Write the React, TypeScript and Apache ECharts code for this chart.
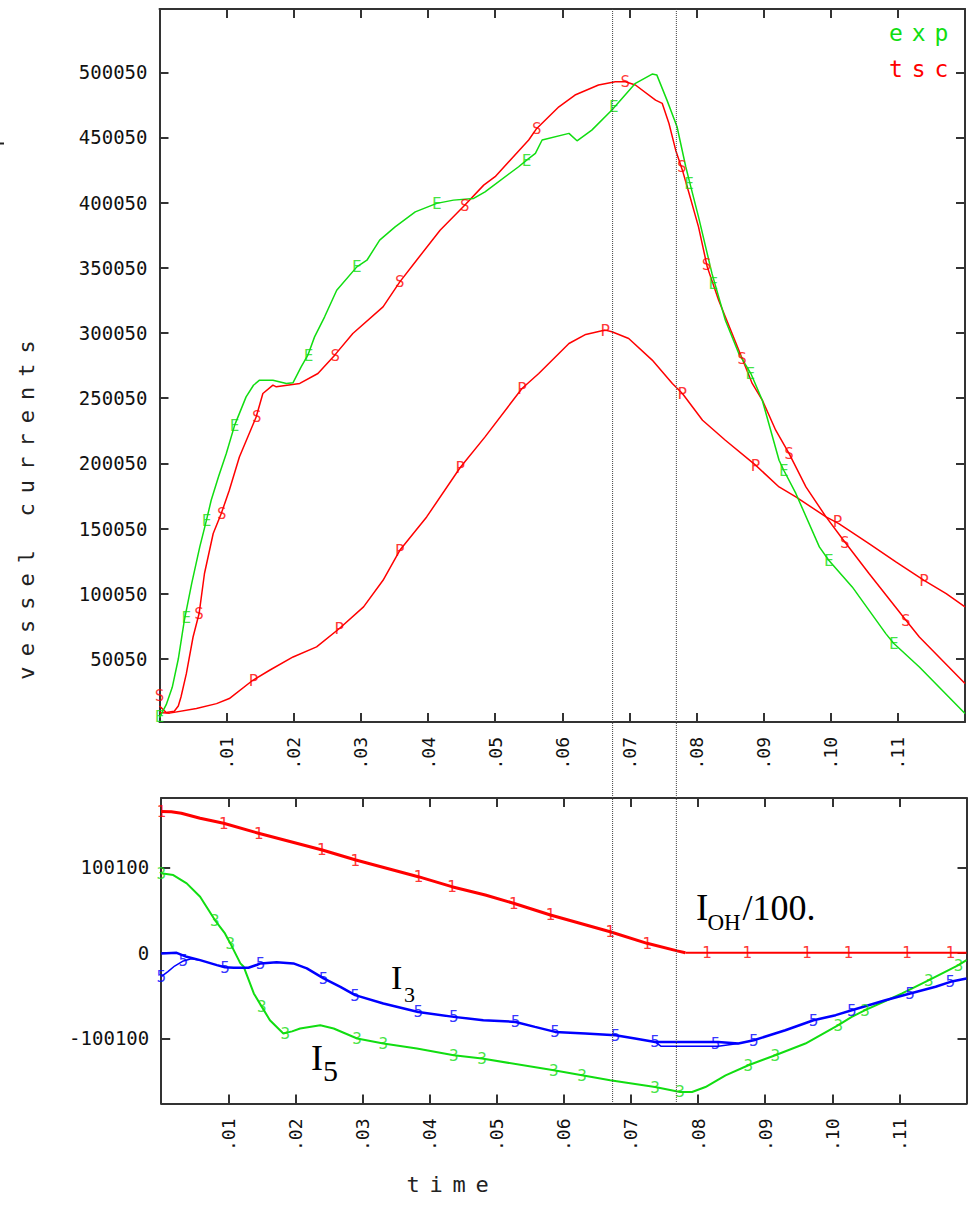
import React, { useEffect, useRef } from "react";
import * as echarts from "echarts";

// ---------- axis values ----------
const TIME_MIN = 0;
const TIME_MAX = 0.12;
const TIME_TICKS = [0.01, 0.02, 0.03, 0.04, 0.05, 0.06, 0.07, 0.08, 0.09, 0.1, 0.11];
const TOP_Y_MIN = 1700;
const TOP_Y_MAX = 548600;
const TOP_Y_TICKS = [50050, 100050, 150050, 200050, 250050, 300050, 350050, 400050, 450050, 500050];
const BOT_Y_MIN = -176400;
const BOT_Y_MAX = 181200;
const BOT_Y_TICKS = [-100100, 0, 100100];
const MARKER_TIMES = [0.0675, 0.077];

// ---------- top panel: vessel currents ----------
const expCurve = [
  [0, 5000], [0.001, 15000], [0.0019, 28300], [0.0028, 50000], [0.0037, 79700], [0.0048, 108000],
  [0.006, 136000], [0.007, 156500], [0.0077, 171800], [0.0088, 190000], [0.00995, 207700],
  [0.0112, 229400], [0.0129, 251100], [0.014, 260000], [0.0149, 263900], [0.0169, 263900],
  [0.0189, 261400], [0.0199, 262000], [0.0211, 274100], [0.0221, 283100], [0.0231, 297100],
  [0.0246, 312500], [0.0264, 332900], [0.0294, 350800], [0.0309, 355900], [0.0328, 371300],
  [0.0351, 381500], [0.0381, 393000], [0.0413, 399500], [0.0438, 402000], [0.0468, 403300],
  [0.0485, 408400], [0.0535, 427600], [0.0547, 432700], [0.056, 437900], [0.057, 448100],
  [0.061, 453200], [0.0622, 447500], [0.0644, 455700], [0.0674, 471100], [0.0709, 491600],
  [0.0734, 498700], [0.0741, 497900], [0.0756, 478700], [0.0771, 458300], [0.0784, 427600],
  [0.0789, 417300], [0.0803, 389200], [0.0823, 345800], [0.0843, 309900], [0.0863, 284400],
  [0.0881, 269000], [0.0898, 248500], [0.0923, 202500], [0.093, 194800], [0.0948, 177000],
  [0.0983, 136000], [0.0997, 125800], [0.1032, 105300], [0.1082, 69500], [0.1094, 61900],
  [0.1132, 43900], [0.12, 8200],
];
const expMarks = [
  [0, 6000], [0.004, 82000], [0.007, 156500], [0.0112, 229400], [0.0222, 283100], [0.0294, 350800],
  [0.0413, 399500], [0.0547, 432700], [0.0677, 473600], [0.0789, 415000], [0.0825, 338000],
  [0.088, 269000], [0.093, 194800], [0.0997, 125800], [0.1094, 61900],
];
const tscTotal = [
  [0, 14000], [0.001, 9000], [0.0022, 10000], [0.0028, 14000], [0.0032, 20900], [0.004, 38800],
  [0.005, 66900], [0.0059, 84900], [0.0067, 115600], [0.008, 146300], [0.0092, 161600],
  [0.0104, 179500], [0.0119, 205000], [0.0144, 235700], [0.0154, 253700], [0.0169, 260100],
  [0.0174, 258800], [0.0209, 261400], [0.0236, 269000], [0.0261, 283100], [0.0288, 299700],
  [0.0333, 320100], [0.0358, 339300], [0.0383, 355900], [0.0418, 378900], [0.0455, 398200],
  [0.0483, 413500], [0.05, 420000], [0.055, 448100], [0.0562, 457000], [0.0595, 473600],
  [0.0619, 482600], [0.0654, 490300], [0.0679, 492800], [0.0694, 492800], [0.0709, 490300],
  [0.0739, 478700], [0.0749, 476200], [0.0759, 460800], [0.0769, 440300], [0.0779, 425000],
  [0.0789, 407100], [0.0803, 381500], [0.0816, 350800], [0.0833, 325200], [0.0853, 299700],
  [0.0868, 280500], [0.0883, 261400], [0.0898, 248600], [0.0918, 225500], [0.0938, 207600],
  [0.0963, 182000], [0.0993, 159000], [0.1017, 142400], [0.1057, 115600], [0.1112, 79700],
  [0.1132, 66900], [0.12, 31200],
];
const tscTotalMarks = [
  [0, 22000], [0.0059, 84900], [0.0093, 161600], [0.0145, 235700], [0.0262, 283100],
  [0.0358, 339300], [0.0455, 398200], [0.0562, 457000], [0.0694, 492800], [0.0778, 428000],
  [0.0815, 353000], [0.0868, 280500], [0.0938, 207600], [0.1021, 139500], [0.1112, 79700],
];
const tscPlasma = [
  [0, 9000], [0.0015, 8500], [0.0055, 12000], [0.0085, 15800], [0.0104, 19700], [0.0139, 33700],
  [0.0164, 41400], [0.0199, 51600], [0.0234, 59300], [0.0268, 73400], [0.0304, 90000],
  [0.0333, 110400], [0.0358, 133400], [0.0398, 159000], [0.0448, 196900], [0.0485, 220400],
  [0.054, 257500], [0.0565, 269000], [0.061, 292000], [0.0635, 299000], [0.0664, 302300],
  [0.0674, 301000], [0.0699, 295900], [0.0734, 279300], [0.0764, 261400], [0.0779, 253700],
  [0.0809, 233200], [0.0843, 217800], [0.0888, 198700], [0.0923, 182000], [0.0948, 174400],
  [0.0993, 159000], [0.1012, 153900], [0.1057, 138600], [0.1097, 124500], [0.1139, 110400],
  [0.1172, 100200], [0.12, 90000],
];
const tscPlasmaMarks = [
  [0.014, 33700], [0.0268, 73400], [0.0358, 133400], [0.0448, 196900], [0.054, 257500],
  [0.0664, 302300], [0.0779, 253700], [0.0888, 198700], [0.101, 155500], [0.1139, 110400],
];

// ---------- bottom panel: coil currents ----------
const ohCurrent = [
  [0, 165300], [0.0015, 165000], [0.003, 163400], [0.0058, 157500], [0.0093, 151600],
  [0.0145, 139900], [0.024, 120400], [0.029, 108600], [0.0383, 89100], [0.0433, 77400],
  [0.0483, 67700], [0.0525, 58000], [0.058, 44300], [0.0669, 24700], [0.0724, 11100],
  [0.0769, 2300], [0.0781, 0], [0.12, 0],
];
const ohMarks = [
  [0, 165200], [0.0093, 151600], [0.0145, 139900], [0.0239, 120400], [0.0289, 108600],
  [0.0383, 89100], [0.0433, 77400], [0.0525, 58000], [0.058, 44300], [0.0669, 24700],
  [0.0724, 11100], [0.0813, 0], [0.0873, 0], [0.0962, 0], [0.1024, 0], [0.1111, 0], [0.1176, 0],
];
const i5Current = [
  [0, 93100], [0.0018, 91000], [0.0038, 81300], [0.0058, 65600], [0.008, 38300], [0.0095, 22700],
  [0.0103, 11000], [0.0118, -12400], [0.0123, -16400], [0.0138, -47600], [0.015, -63300],
  [0.0162, -78900], [0.0182, -94500], [0.0195, -92000], [0.0207, -88600], [0.0237, -84700],
  [0.0257, -88600], [0.0292, -100300], [0.0331, -106200], [0.0381, -112000], [0.0436, -119900],
  [0.0478, -123800], [0.0585, -137500], [0.0627, -143400], [0.0669, -149200], [0.0736, -157100],
  [0.0773, -162900], [0.0791, -162900], [0.0811, -157100], [0.0841, -143400], [0.0875, -131600],
  [0.0915, -119900], [0.096, -106200], [0.1009, -84700], [0.1029, -75000], [0.1049, -67200],
  [0.1104, -47600], [0.1144, -32000], [0.1188, -14400], [0.12, -8600],
];
const i5Marks = [
  [0, 93100], [0.008, 38300], [0.0103, 11000], [0.015, -63300], [0.0185, -94500], [0.0292, -100300],
  [0.0331, -106200], [0.0436, -119900], [0.0478, -123800], [0.0585, -137500], [0.0627, -143400],
  [0.0736, -157100], [0.0773, -162900], [0.0875, -131600], [0.0915, -119900], [0.1009, -84700],
  [0.1049, -67200], [0.1144, -32000], [0.1188, -14400],
];
const i3Current = [
  [0, -700], [0.0023, 0], [0.0038, -4700], [0.0058, -8600], [0.0083, -14400], [0.0095, -17000],
  [0.0108, -17500], [0.013, -17500], [0.0143, -14000], [0.0148, -12400], [0.0172, -11000],
  [0.0197, -12400], [0.0217, -18300], [0.0242, -30000], [0.0267, -39800], [0.0289, -49600],
  [0.0331, -59300], [0.0383, -69200], [0.0436, -75000], [0.048, -78900], [0.0528, -80900],
  [0.0557, -86700], [0.0587, -92600], [0.0632, -94500], [0.0677, -96500], [0.0706, -100300],
  [0.0736, -104300], [0.0745, -104300], [0.083, -104300], [0.086, -106200], [0.0883, -102300],
  [0.093, -90600], [0.0972, -78900], [0.1005, -73000], [0.1029, -67200], [0.1079, -55500],
  [0.1116, -47600], [0.1154, -39800], [0.1176, -34000], [0.12, -30000],
];
const i3StartBranch = [
  [0, -28000], [0.001, -22000], [0.002, -15500], [0.0033, -9500], [0.0045, -7000], [0.0058, -8600],
];
const i3DipBranch = [
  [0.0736, -104300], [0.0745, -109500], [0.083, -109500], [0.086, -106200],
];
const i3Marks = [
  [0, -28000], [0.0033, -9500], [0.0095, -17000], [0.0148, -12400], [0.0242, -30000],
  [0.0289, -49600], [0.0383, -69200], [0.0436, -75000], [0.0528, -80900], [0.0587, -92600],
  [0.0677, -96500], [0.0736, -104300], [0.0826, -106000], [0.0883, -102300], [0.0972, -78900],
  [0.1029, -67200], [0.1116, -47600], [0.1176, -34000],
];

// ---------- styles ----------
const GREEN = "#11dd11";
const RED = "#ff0000";
const BLUE = "#0000ff";
const FRAME = "#333333";
const MONO = "DejaVu Sans Mono";
const SERIF = "Liberation Serif";

const TOP_GRID = { left: 159.5, top: 9, width: 805.5, height: 713 };
const BOT_GRID = { left: 161.2, top: 798, width: 805.3, height: 305.5 };

const fmtTime = (v: number) => v.toFixed(2).replace(/^0/, "");

function xAxisDef(gridIndex: number, position: "bottom" | "top", labels: boolean) {
  return {
    type: "value",
    gridIndex,
    position,
    min: TIME_MIN,
    max: TIME_MAX,
    axisLine: { show: true, onZero: false, lineStyle: { color: FRAME, width: 2 } },
    axisTick: { show: true, inside: true, length: 9, customValues: TIME_TICKS, lineStyle: { color: FRAME, width: 2 } },
    axisLabel: {
      show: labels,
      customValues: TIME_TICKS,
      rotate: 90,
      margin: 15,
      formatter: fmtTime,
      fontFamily: MONO,
      fontSize: 18,
      color: "#111",
    },
    splitLine: { show: false },
  };
}

function yAxisDef(gridIndex: number, position: "left" | "right", labels: boolean, min: number, max: number, ticks: number[]) {
  return {
    type: "value",
    gridIndex,
    position,
    min,
    max,
    axisLine: { show: true, onZero: false, lineStyle: { color: FRAME, width: 2 } },
    axisTick: { show: true, inside: true, length: 9, customValues: ticks, lineStyle: { color: FRAME, width: 2 } },
    axisLabel: {
      show: labels,
      customValues: ticks,
      margin: 12,
      formatter: (v: number) => String(Math.round(v)),
      fontFamily: MONO,
      fontSize: 19,
      color: "#111",
    },
    splitLine: { show: false },
  };
}

function lineSeries(data: number[][], color: string, width: number, axis: number, z = 3) {
  return {
    type: "line",
    data,
    xAxisIndex: axis,
    yAxisIndex: axis,
    symbol: "none",
    smooth: false,
    silent: true,
    z,
    lineStyle: { color, width },
  };
}

function markSeries(data: number[][], letter: string, color: string, axis: number) {
  return {
    type: "scatter",
    data,
    xAxisIndex: axis,
    yAxisIndex: axis,
    symbol: "circle",
    symbolSize: 1,
    silent: true,
    z: 5,
    itemStyle: { color: "rgba(0,0,0,0)" },
    label: {
      show: true,
      position: "inside",
      formatter: letter,
      color,
      fontFamily: MONO,
      fontSize: 16,
    },
  };
}

function spacedText(text: string, x0: number, y0: number, dx: number, dy: number, color: string, size: number, rotation = 0) {
  const out: any[] = [];
  for (let i = 0; i < text.length; i++) {
    const ch = text[i];
    if (ch === " ") continue;
    out.push({
      type: "text",
      x: x0 + i * dx,
      y: y0 + i * dy,
      rotation,
      silent: true,
      z: 20,
      style: {
        text: ch,
        fill: color,
        fontFamily: MONO,
        fontSize: size,
        align: "center",
        verticalAlign: "middle",
        textAlign: "center",
        textVerticalAlign: "middle",
      },
    });
  }
  return out;
}

function serifText(text: string, x: number, y: number, size: number) {
  return {
    type: "text",
    x,
    y,
    silent: true,
    z: 20,
    style: {
      text,
      fill: "#000",
      fontFamily: SERIF,
      fontSize: size,
      align: "left",
      verticalAlign: "middle",
      textAlign: "left",
      textVerticalAlign: "middle",
    },
  };
}

export default function App() {
  const ref = useRef<HTMLDivElement>(null);

  useEffect(() => {
    if (!ref.current) return;
    const chart = echarts.init(ref.current, null, { renderer: "svg" });
    const ohDecline = ohCurrent.filter((p) => p[0] <= 0.0781);
    const ohFlat = ohCurrent.filter((p) => p[0] >= 0.0781);

    const option: any = {
      animation: false,
      backgroundColor: "#ffffff",
      grid: [
        { ...TOP_GRID, containLabel: false, outerBoundsMode: "none", show: false },
        { ...BOT_GRID, containLabel: false, outerBoundsMode: "none", show: false },
      ],
      xAxis: [
        xAxisDef(0, "bottom", true),
        xAxisDef(0, "top", false),
        xAxisDef(1, "bottom", true),
        xAxisDef(1, "top", false),
      ],
      yAxis: [
        yAxisDef(0, "left", true, TOP_Y_MIN, TOP_Y_MAX, TOP_Y_TICKS),
        yAxisDef(0, "right", false, TOP_Y_MIN, TOP_Y_MAX, TOP_Y_TICKS),
        yAxisDef(1, "left", true, BOT_Y_MIN, BOT_Y_MAX, BOT_Y_TICKS),
        yAxisDef(1, "right", false, BOT_Y_MIN, BOT_Y_MAX, BOT_Y_TICKS),
      ],
      series: [
        lineSeries(tscPlasma, RED, 1.5, 0),
        lineSeries(tscTotal, RED, 1.5, 0),
        lineSeries(expCurve, GREEN, 1.5, 0, 4),
        markSeries(tscPlasmaMarks, "P", RED, 0),
        markSeries(tscTotalMarks, "S", RED, 0),
        markSeries(expMarks, "E", GREEN, 0),
        { ...lineSeries(ohDecline, RED, 3, 2), xAxisIndex: 2, yAxisIndex: 2 },
        { ...lineSeries(ohFlat, RED, 2, 2), xAxisIndex: 2, yAxisIndex: 2 },
        { ...lineSeries(i5Current, GREEN, 2, 2), xAxisIndex: 2, yAxisIndex: 2 },
        { ...lineSeries(i3Current, BLUE, 2.5, 2), xAxisIndex: 2, yAxisIndex: 2 },
        { ...lineSeries(i3StartBranch, BLUE, 1.5, 2), xAxisIndex: 2, yAxisIndex: 2 },
        { ...lineSeries(i3DipBranch, BLUE, 1.5, 2), xAxisIndex: 2, yAxisIndex: 2 },
        { ...markSeries(ohMarks, "1", RED, 2), xAxisIndex: 2, yAxisIndex: 2 },
        { ...markSeries(i5Marks, "3", GREEN, 2), xAxisIndex: 2, yAxisIndex: 2 },
        { ...markSeries(i3Marks, "5", BLUE, 2), xAxisIndex: 2, yAxisIndex: 2 },
      ],
    };
    chart.setOption(option);

    const markerXs = MARKER_TIMES.map((t) => chart.convertToPixel({ xAxisIndex: 0 }, t) as number);
    const yTop = TOP_GRID.top;
    const yBottom = BOT_GRID.top + BOT_GRID.height;

    const graphics: any[] = [
      ...markerXs.map((x) => ({
        type: "line",
        silent: true,
        z: 15,
        shape: { x1: x, y1: yTop, x2: x, y2: yBottom },
        style: { stroke: "#444", lineWidth: 1, lineDash: [1, 1] },
      })),
      {
        type: "line",
        silent: true,
        z: 15,
        shape: { x1: 0, y1: 143.5, x2: 4, y2: 143.5 },
        style: { stroke: "#222", lineWidth: 2 },
      },
      ...spacedText("vessel currents", 26, 673, 0, -23.3, "#222", 22, Math.PI / 2),
      ...spacedText("time", 413, 1184.5, 23, 0, "#222", 22),
      ...spacedText("exp", 896, 32.5, 22.7, 0, GREEN, 23),
      ...spacedText("tsc", 896, 69, 22.7, 0, RED, 23),
      serifText("I", 696, 907.5, 37),
      serifText("OH", 707.5, 922.2, 23),
      serifText("/100.", 742.5, 907.5, 36),
      serifText("I", 391, 977.8, 34),
      serifText("3", 404, 994.3, 22),
      serifText("I", 311, 1057.9, 36),
      serifText("5", 323, 1070.6, 30),
    ];
    chart.setOption({ graphic: graphics });

    return () => {
      chart.dispose();
    };
  }, []);

  return (
    <div
      ref={ref}
      style={{ position: "absolute", left: 0, top: 0, width: 971, height: 1205, background: "#fff" }}
    />
  );
}
